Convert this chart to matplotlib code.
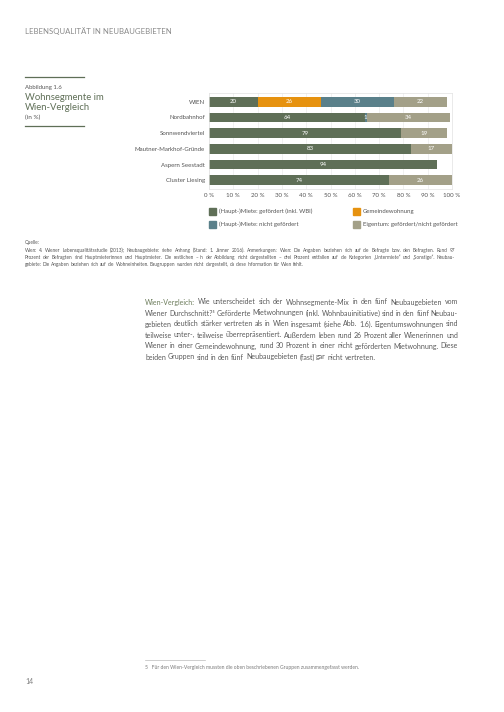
import matplotlib
matplotlib.use("Agg")
import matplotlib.pyplot as plt
from matplotlib.patches import Rectangle
import numpy as np

plt.rcParams['font.family'] = ['Lato', 'DejaVu Sans']

# data
areas = ["WIEN", "Nordbahnhof", "Sonnwendviertel", "Mautner-Markhof-Gründe",
         "Aspern Seestadt", "Cluster Liesing"]
haupt_gefoerdert = [20, 64, 79, 83, 94, 74]
gemeinde = [26, 0, 0, 0, 0, 0]
haupt_nicht = [30, 1, 0, 0, 0, 0]
eigentum = [22, 34, 19, 17, 0, 26]
segment_names = ["(Haupt-)Miete: gefördert (inkl. WBI)", "Gemeindewohnung",
                 "(Haupt-)Miete: nicht gefördert", "Eigentum: gefördert/nicht gefördert"]
colors = ["#5f6f57", "#e6920f", "#5a808a", "#a3a088"]
xticks = np.arange(0, 101, 10)

W, H = 504, 712
fig = plt.figure(figsize=(W / 100, H / 100), dpi=100)
gray = "#7a7a7a"
dark = "#555555"
renderer = fig.canvas.get_renderer()
SPACE_EM = 0.24


def fx(px):
    return px / W


def fy(py):
    return 1 - py / H


def text_width(s, size):
    t = fig.text(0, 0, s, fontsize=size)
    w = t.get_window_extent(renderer).width
    t.remove()
    return w


def natural_width(line, size):
    words = line.split(" ")
    space = SPACE_EM * size * 100 / 72
    return sum(text_width(w, size) for w in words) + space * (len(words) - 1)


def fit_size(lines, width, size=6.0):
    # adjust size until the widest line fits the column with normal spacing
    for _ in range(4):
        widest = max(natural_width(l, size) for l in lines)
        size *= width * 0.99 / widest
    return size


def justified(line, x0, x1, py, size, color, colored=0, ccolor=None, justify=True):
    words = line.split(" ")
    widths = [text_width(w, size) for w in words]
    space = SPACE_EM * size * 100 / 72
    if justify and len(words) > 1:
        gap = (x1 - x0 - sum(widths)) / (len(words) - 1)
    else:
        gap = space
    x = x0
    for k, (w, wd) in enumerate(zip(words, widths)):
        c = ccolor if k < colored else color
        fig.text(fx(x), fy(py), w, fontsize=size, color=c, va="center")
        x += wd + gap


# header
fig.text(fx(25), fy(31), "LEBENSQUALITÄT IN NEUBAUGEBIETEN", fontsize=5.6,
         color="#8a8a8a", va="center", ha="left")

# figure caption block on the left
fig.add_artist(plt.Line2D([fx(25), fx(84)], [fy(77), fy(77)], color="#5f6f57", lw=0.9))
fig.add_artist(plt.Line2D([fx(25), fx(84)], [fy(126), fy(126)], color="#5f6f57", lw=0.9))
fig.text(fx(25), fy(87), "Abbildung 1.6", fontsize=4.3, color=dark, va="center")
fig.text(fx(25), fy(97.5), "Wohnsegmente im", fontsize=6.8, color="#5f6f57", va="center")
fig.text(fx(25), fy(107.5), "Wien-Vergleich", fontsize=6.8, color="#5f6f57", va="center")
fig.text(fx(25), fy(117.5), "(in %)", fontsize=4.6, color=dark, va="center")

# chart
ax = fig.add_axes([fx(209), fy(189), (452 - 209) / W, (189 - 93) / H])
y = np.arange(len(areas))
series = [haupt_gefoerdert, gemeinde, haupt_nicht, eigentum]
left = np.zeros(len(areas))
for vals, col in zip(series, colors):
    vals = np.array(vals, dtype=float)
    ax.barh(y, vals, left=left, height=0.62, color=col, edgecolor="none", zorder=2)
    for yi, (l, v) in enumerate(zip(left, vals)):
        if v > 0:
            ax.text(l + v / 2, yi, f"{v:.0f}", ha="center", va="center",
                    fontsize=4.4, color="white", zorder=3)
    left += vals

ax.set_xlim(0, 100)
ax.set_ylim(len(areas) - 0.45, -0.55)
ax.set_xticks(xticks)
ax.set_xticklabels([f"{t} %" for t in xticks])
ax.set_yticks(y)
ax.set_yticklabels(areas)
ax.tick_params(axis="both", length=0, labelsize=4.4, colors=dark, pad=3)
ax.grid(axis="x", color="#ececec", lw=0.5, zorder=0)
for s in ax.spines.values():
    s.set_color("#e2e2e2")
    s.set_linewidth(0.5)

# legend (two columns)
legend_pos = [(209, 211.5), (353, 211.5), (209, 224.5), (353, 224.5)]
for (px, py), name, col in zip(legend_pos, segment_names, colors):
    fig.add_artist(Rectangle((fx(px), fy(py + 3.5)), 7 / W, 7 / H,
                             transform=fig.transFigure, color=col))
    fig.text(fx(px + 10), fy(py), name, fontsize=4.3, color=dark, va="center")

# source notes
notes = [
    "Quelle:",
    "Wien: 4. Wiener Lebensqualitätsstudie (2013); Neubaugebiete: siehe Anhang (Stand: 1. Jänner 2016). Anmerkungen: Wien: Die Angaben beziehen sich auf die Befragte bzw. den Befragten. Rund 97",
    "Prozent der Befragten sind Hauptmieterinnen und Hauptmieter. Die restlichen – in der Abbildung nicht dargestellten – drei Prozent entfallen auf die Kategorien „Untermiete“ und „Sonstige“. Neubau-",
    "gebiete: Die Angaben beziehen sich auf die Wohneinheiten. Baugruppen wurden nicht dargestellt, da diese Information für Wien fehlt.",
]
note_size = fit_size(notes[1:3], 455 - 25, 3.6)
note_y = [243, 250.5, 257.5, 264.5]
for i, (line, py) in enumerate(zip(notes, note_y)):
    justified(line, 25, 455, py, note_size, dark, justify=(i in (1, 2)))

# body paragraph
para = [
    "Wien-Vergleich: Wie unterscheidet sich der Wohnsegmente-Mix in den fünf Neubaugebieten vom",
    "Wiener Durchschnitt?⁵ Geförderte Mietwohnungen (inkl. Wohnbauinitiative) sind in den fünf Neubau-",
    "gebieten deutlich stärker vertreten als in Wien insgesamt (siehe Abb. 1.6). Eigentumswohnungen sind",
    "teilweise unter-, teilweise überrepräsentiert. Außerdem leben rund 26 Prozent aller Wienerinnen und",
    "Wiener in einer Gemeindewohnung, rund 30 Prozent in einer nicht geförderten Mietwohnung. Diese",
    "beiden Gruppen sind in den fünf Neubaugebieten (fast) gar nicht vertreten.",
]
para_size = fit_size(para[:-1], 458 - 145, 5.7)
for i, line in enumerate(para):
    justified(line, 145, 458, 302 + i * 11, para_size, "#5a5a5a",
              colored=1 if i == 0 else 0, ccolor="#6d7d5c",
              justify=(i < len(para) - 1))

# footnote and page number
fig.add_artist(plt.Line2D([fx(145), fx(205)], [fy(660), fy(660)], color="#bbbbbb", lw=0.5))
fig.text(fx(145), fy(668), "5   Für den Wien-Vergleich mussten die oben beschriebenen Gruppen zusammengefasst werden.",
         fontsize=3.6, color=gray, va="center")
fig.text(fx(25), fy(681), "14", fontsize=5, color=gray, va="center")

fig.savefig("out.png", dpi=100)
